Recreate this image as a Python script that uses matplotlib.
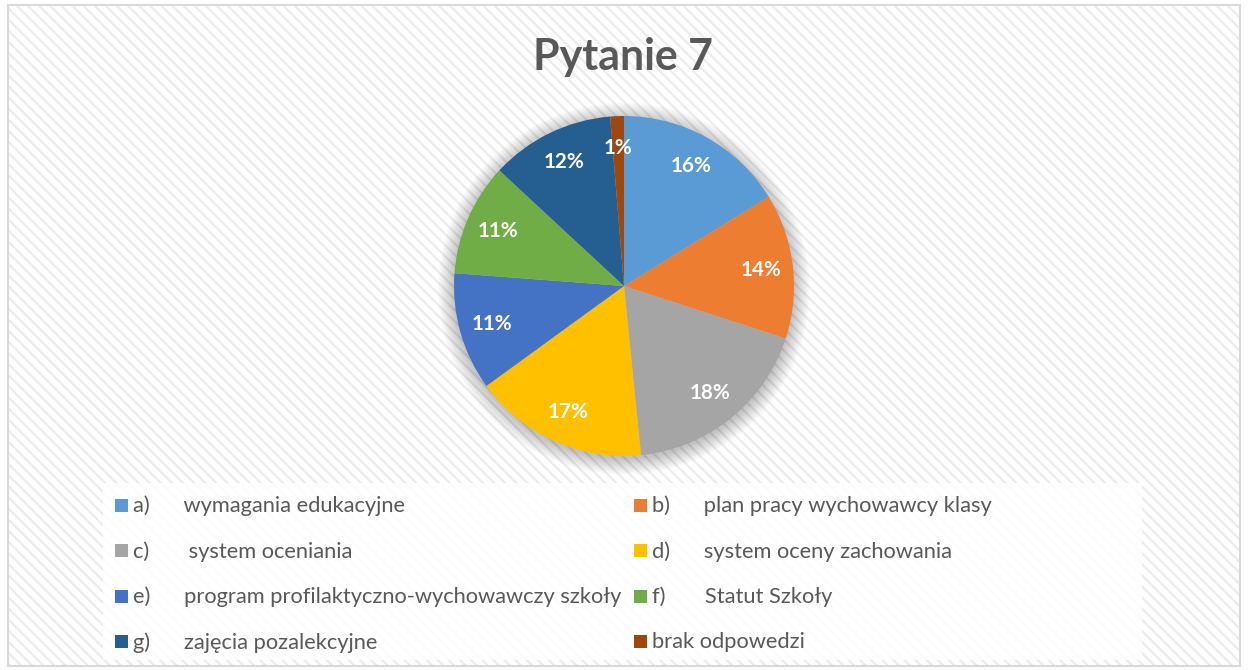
import matplotlib
matplotlib.use("Agg")
import matplotlib.pyplot as plt
from matplotlib.patches import Rectangle, Circle
from matplotlib.lines import Line2D

# ---------------- data ----------------
title = "Pytanie 7"
prefixes = ["a)", "b)", "c)", "d)", "e)", "f)", "g)", ""]
answers = ["wymagania edukacyjne", "plan pracy wychowawcy klasy", "system oceniania",
           "system oceny zachowania", "program profilaktyczno-wychowawczy szkoły",
           "Statut Szkoły", "zajęcia pozalekcyjne", "brak odpowedzi"]
values = [16.2, 13.8, 18.4, 16.6, 11.2, 10.7, 11.8, 1.3]
colors = ["#5B9BD5", "#ED7D31", "#A5A5A5", "#FFC000", "#4472C4", "#70AD47", "#255E91", "#9E480E"]

# ---------------- layout ----------------
W, H, DPI = 1248, 670, 100
FONT = "Lato"
TXT = "#595959"
plt.rcParams["font.family"] = [FONT, "DejaVu Sans"]
plt.rcParams["hatch.linewidth"] = 1.6

fig = plt.figure(figsize=(W / DPI, H / DPI), dpi=DPI)
fig.patch.set_facecolor("white")
renderer = fig.canvas.get_renderer()


def px(x, y):
    return x / W, 1 - y / H


def text_width(text, size, weight="normal"):
    t = fig.text(0, 0, text, fontsize=size, fontweight=weight, family=FONT)
    w = t.get_window_extent(renderer).width
    t.remove()
    return w


def fit_size(text, target_px, weight="normal", base=10):
    return base * target_px / text_width(text, base, weight)


# background with diagonal stripes and border
x0, y0, x1, y1 = 8, 5, 1240, 666
fig.add_artist(Rectangle(px(x0, y1), (x1 - x0) / W, (y1 - y0) / H, transform=fig.transFigure,
                         facecolor="white", edgecolor="#ececec", hatch="\\\\\\", linewidth=0, zorder=0))
fig.add_artist(Rectangle(px(x0, y1), (x1 - x0) / W, (y1 - y0) / H, transform=fig.transFigure,
                         facecolor="none", edgecolor="#d9d9d9", linewidth=1.5, zorder=0.5))
# legend area (white panel)
lx0, ly0, lx1, ly1 = 103, 483, 1142, 660
fig.add_artist(Rectangle(px(lx0, ly1), (lx1 - lx0) / W, (ly1 - ly0) / H, transform=fig.transFigure,
                         facecolor="white", edgecolor="none", alpha=0.85, zorder=0.6))

# title
tsize = fit_size(title, 180, weight="bold")
fig.text(*px(623, 70), title, ha="center", va="baseline", fontsize=tsize,
         fontweight="bold", color=TXT)

# pie
cx, cy, R = 624, 286, 170
ax = fig.add_axes([(cx - R) / W, (H - cy - R) / H, 2 * R / W, 2 * R / H])
ax.set_xlim(-1, 1)
ax.set_ylim(-1, 1)
ax.axis("off")
for i in range(20):
    ax.add_patch(Circle((0, -0.015), 1.0 + 0.005 * i, facecolor="black", alpha=0.011,
                        linewidth=0, clip_on=False, zorder=0))

psize = fit_size("16%", 41, weight="bold")
wedges, _, autotexts = ax.pie(values, colors=colors, startangle=90, counterclock=False,
                              autopct=lambda p: f"{p:.0f}%", pctdistance=0.81,
                              radius=1.0, wedgeprops=dict(linewidth=0),
                              textprops=dict(color="white", fontweight="bold", fontsize=psize))
for w in wedges:
    w.set_zorder(2)
for t in autotexts:
    t.set_zorder(3)
ax.set_xlim(-1, 1)
ax.set_ylim(-1, 1)

# legend (two columns, row-wise order)
lsize = fit_size("plan pracy wychowawcy klasy", 289)
lsize_px = lsize * DPI / 72
space_px = (text_width("x" + " " * 20 + "x", lsize) - text_width("xx", lsize)) / 20

TAB = 53
col_x = [114, 633]
row_y0, row_dy = 506, 45.5
msize_px = 13
for i, (pre, ans, c) in enumerate(zip(prefixes, answers, colors)):
    if pre:
        pw = text_width(pre, lsize)
        n = max(1, round((TAB - pw) / space_px))
        label = pre + " " * n + ans
    else:
        label = ans
    handle = Line2D([], [], marker="s", linestyle="none", markersize=msize_px * 72 / DPI,
                    markerfacecolor=c, markeredgewidth=0)
    row, col = divmod(i, 2)
    leg = fig.legend([handle], [label], loc="center left",
                     bbox_to_anchor=px(col_x[col], row_y0 + row * row_dy),
                     frameon=False, borderpad=0, borderaxespad=0, fontsize=lsize,
                     handlelength=msize_px / lsize_px, handletextpad=6 / lsize_px,
                     labelcolor=TXT, numpoints=1)
    leg.set_zorder(5)

fig.savefig("out.png", dpi=DPI, facecolor="white")
